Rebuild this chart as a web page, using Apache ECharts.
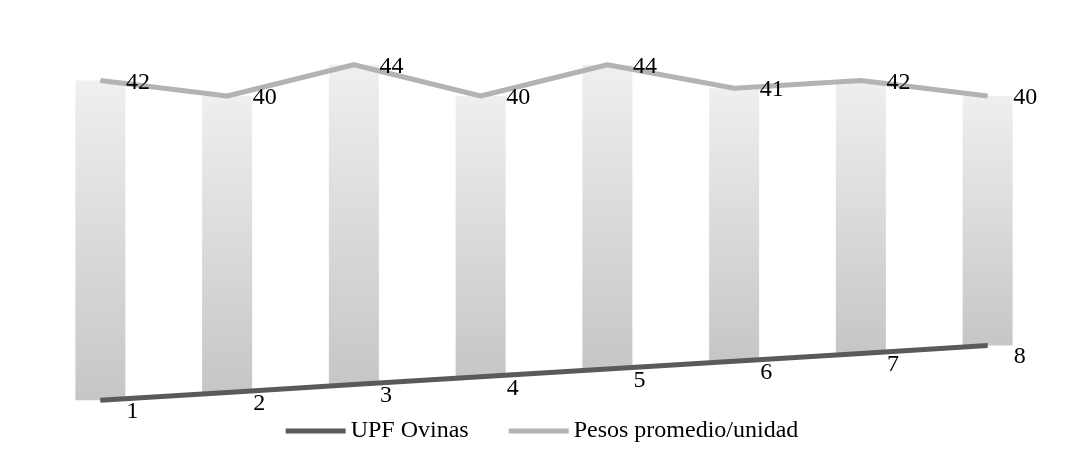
<!DOCTYPE html>
<html>
<head>
<meta charset="utf-8">
<script src="https://cdn.jsdelivr.net/npm/echarts@6/dist/echarts.min.js"></script>
<style>html,body{margin:0;padding:0;background:#fff}#chart{width:1084px;height:452px}</style>
</head>
<body>
<div id="chart"></div>
<script>
const categories = ['1', '2', '3', '4', '5', '6', '7', '8'];
const upfOvinas = [1, 2, 3, 4, 5, 6, 7, 8];
const pesosPromedio = [42, 40, 44, 40, 44, 41, 42, 40];

// base invisible + banda entre las dos series
const gap = pesosPromedio.map((v, i) => v - upfOvinas[i]);

let chart = echarts.init(document.getElementById('chart'));
chart.setOption({
    textStyle: {fontFamily: 'Liberation Serif'},
    grid: {left: 37, right: 33, top: 18, bottom: 44},
    xAxis: {
        type: 'category',
        data: categories,
        show: false
    },
    yAxis: {type: 'value', min: 0, max: 50, show: false},
    legend: {
        bottom: 4,
        itemWidth: 60,
        itemHeight: 5,
        itemGap: 40,
        textStyle: {fontSize: 24, color: '#000', fontFamily: 'Liberation Serif'},
        data: [
            {name: 'UPF Ovinas', icon: 'rect'},
            {name: 'Pesos promedio/unidad', icon: 'rect'}
        ]
    },
    series: [
        {
            type: 'bar', stack: 'b', data: upfOvinas, barWidth: 50,
            itemStyle: {color: 'transparent'}, silent: true
        },
        {
            type: 'bar', stack: 'b', data: gap, barWidth: 50, silent: true,
            itemStyle: {
                color: new echarts.graphic.LinearGradient(0, 0, 0, 1, [
                    {offset: 0, color: '#efefef'},
                    {offset: 1, color: '#c6c6c6'}
                ])
            }
        },
        {
            name: 'UPF Ovinas', type: 'line', data: upfOvinas,
            symbol: 'circle', symbolSize: 1, showSymbol: true,
            lineStyle: {color: '#5a5a5a', width: 5}, itemStyle: {color: '#5a5a5a'},
            label: {show: true, position: 'bottom', offset: [32, -6], fontSize: 24, color: '#000', fontFamily: 'Liberation Serif'}
        },
        {
            name: 'Pesos promedio/unidad', type: 'line', data: pesosPromedio,
            symbol: 'circle', symbolSize: 1, showSymbol: true,
            lineStyle: {color: '#b3b3b3', width: 5}, itemStyle: {color: '#b3b3b3'},
            label: {show: true, position: 'right', offset: [20, 2], fontSize: 24, color: '#000', fontFamily: 'Liberation Serif'}
        }
    ]
});
</script>
</body>
</html>
